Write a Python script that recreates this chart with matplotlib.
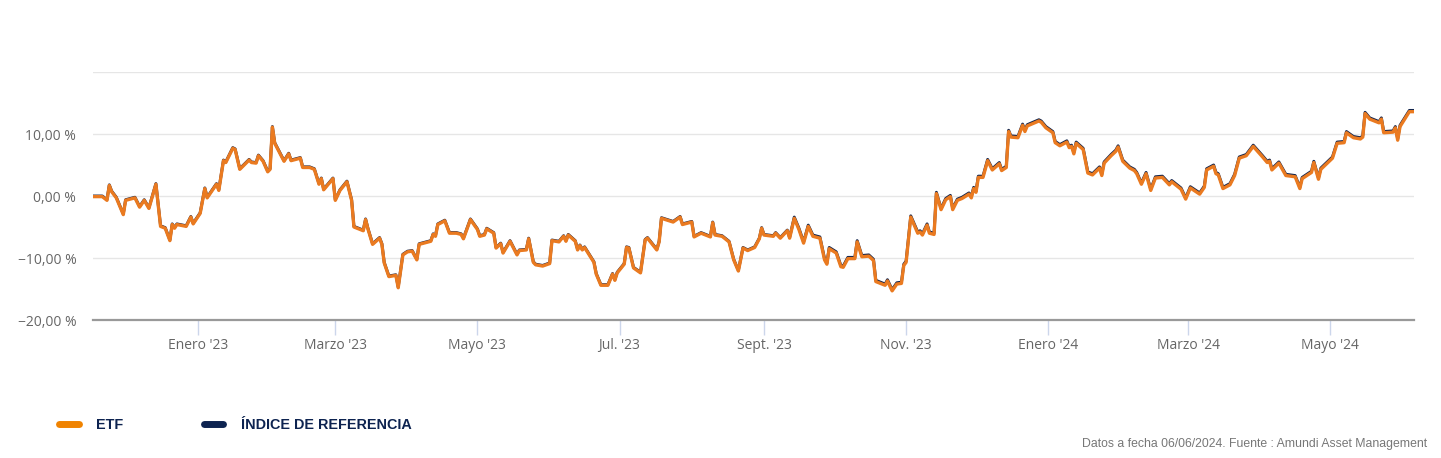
import pandas as pd
import matplotlib.pyplot as plt
from matplotlib.lines import Line2D

# days counted from 17/11/2022, values in %
start = pd.Timestamp('2022-11-17')
end = pd.Timestamp('2024-06-06')

days = [0, 4, 6, 7, 8, 10, 13, 14, 18, 20, 22, 24, 27, 29, 31, 33, 34, 35, 36, 40, 42, 43, 46, 48,
        49, 53, 54, 56, 57, 60, 61, 63, 67, 68, 70, 71, 73, 75, 76, 77, 78, 82, 84, 85, 89, 90, 93, 95,
        97, 98, 99, 103, 104, 106, 109, 111, 112, 116, 117, 118, 120, 123, 124, 125, 127, 130, 131, 133, 135, 137, 139, 140,
        142, 145, 146, 147, 148, 151, 153, 156, 158, 159, 162, 165, 166, 168, 169, 172, 173, 175, 176, 179, 182, 183, 186, 187, 189,
        190, 193, 196, 197, 200, 202, 203, 204, 207, 208, 209, 210, 211, 215, 216, 218, 221, 223, 224, 225, 228, 229, 230,
        232, 235, 237, 238, 242, 243, 244, 249, 252, 253, 257, 258, 261, 265, 266, 267, 270, 273, 275, 277, 279, 281,
        284, 286, 287, 288, 292, 293, 295, 298, 299, 301, 303, 305, 307, 309, 312, 314, 315, 316, 319, 321, 322, 324, 327, 328,
        330, 333, 335, 336, 340, 341, 343, 345, 347, 348, 349, 351, 354, 355, 356, 358, 359, 361, 362, 364, 366, 368, 369, 371,
        373, 376, 377, 378, 379,
        380, 382, 384, 386, 389, 390, 392, 393, 394, 397, 399, 400, 401, 406, 407, 409, 412, 413, 415, 418, 419, 420, 421, 422,
        425, 427, 429, 432, 433, 434, 437, 439, 440, 442, 445, 447, 448, 450, 452, 454, 456, 459, 462, 463, 467, 469, 471,
        473, 475, 477, 478, 481, 482, 483, 485, 488, 490, 492, 495, 498, 502, 504, 505, 506, 509, 512, 516, 518, 519, 523, 524,
        526, 527, 532, 534, 537, 538, 541, 544, 545, 546, 548, 552, 553, 554, 558, 559, 560, 561, 565, 567]

etf = [-0.1, -0.1, -0.7, 1.7, 0.7, -0.3, -3.0, -0.7, -0.3, -1.8, -0.7, -2.0, 1.9, -4.9, -5.2, -7.2, -4.6, -5.2, -4.6, -4.9, -3.4, -4.5, -2.8, 1.2,
       -0.3, 1.9, 0.9, 5.7, 5.4, 7.7, 7.5, 4.3, 5.8, 5.4, 5.3, 6.5, 5.6, 3.9, 4.3, 11.1, 8.5, 5.6, 6.8, 5.7, 6.1, 4.6, 4.6, 4.3,
       1.9, 2.8, 1.0, 2.8, -0.7, 0.9, 2.3, -0.7, -5.0, -5.6, -3.8, -5.3, -7.8, -6.8, -7.8, -10.8, -13.0, -12.8, -14.8, -9.5, -9.0, -8.9, -10.3, -7.8,
       -7.6, -7.3, -6.2, -6.5, -4.6, -4.0, -6.0, -6.0, -6.2, -6.9, -3.8, -5.4, -6.5, -6.3, -5.3, -6.0, -8.4, -7.7, -9.2, -7.3, -9.5, -8.8, -8.7, -6.9, -10.7,
       -11.1, -11.3, -10.9, -7.2, -7.4, -6.5, -7.3, -6.3, -7.3, -8.7, -8.0, -8.7, -8.3, -10.7, -12.6, -14.4, -14.4, -12.6, -13.6, -12.4, -11.0, -8.3, -8.4,
       -11.6, -12.4, -7.1, -6.8, -8.7, -7.4, -3.6, -4.2, -3.4, -4.6, -4.2, -6.6, -6.0, -6.6, -4.3, -6.3, -6.5, -7.4, -10.3, -12.1, -8.4, -8.8,
       -8.3, -6.9, -5.2, -6.3, -6.5, -6.0, -6.8, -5.6, -6.8, -3.6, -5.4, -7.6, -4.9, -6.5, -6.8, -10.3, -11.0, -8.5, -9.2, -11.4, -11.5, -10.1, -10.1, -7.4,
       -9.8, -9.7, -10.4, -13.8, -14.4, -13.7, -15.3, -14.2, -14.1, -11.2, -10.7, -3.4, -6.0, -5.8, -6.3, -4.7, -6.0, -6.2, 0.4, -2.2, -0.6, -0.1, -2.2, -0.7,
       -0.4, 0.3, -0.3, 1.2, 0.6,
       3.0, 3.0, 5.7, 4.2, 5.2, 4.1, 4.6, 10.4, 9.5, 9.4, 11.4, 10.4, 11.3, 12.1, 11.9, 11.0, 10.2, 8.6, 8.1, 8.7, 7.8, 8.0, 6.8, 8.5,
       7.5, 3.7, 3.4, 4.5, 3.3, 5.3, 6.5, 7.2, 7.9, 5.6, 4.5, 4.1, 3.6, 1.9, 3.6, 0.9, 2.9, 3.0, 1.8, 2.3, 1.1, -0.5, 1.3,
       0.8, 0.3, 1.4, 4.2, 4.8, 3.6, 3.4, 1.2, 1.8, 3.3, 6.1, 6.5, 8.0, 6.3, 5.4, 5.6, 4.2, 5.3, 3.3, 3.1, 1.2, 2.8, 3.8, 5.4,
       2.7, 4.3, 6.1, 8.5, 8.6, 10.2, 9.4, 9.2, 9.5, 13.3, 12.4, 11.8, 12.4, 10.2, 10.3, 11.0, 9.0, 11.2, 13.6, 13.6]

indice = [0.0, 0.0, -0.6, 1.8, 0.8, -0.2, -2.9, -0.6, -0.2, -1.7, -0.6, -1.9, 2.0, -4.8, -5.1, -7.1, -4.5, -5.1, -4.5, -4.8, -3.3, -4.4, -2.7, 1.3,
          -0.2, 2.0, 1.0, 5.8, 5.5, 7.8, 7.6, 4.4, 5.9, 5.5, 5.4, 6.6, 5.7, 4.0, 4.4, 11.2, 8.6, 5.7, 6.9, 5.8, 6.2, 4.7, 4.7, 4.4,
          2.0, 2.9, 1.1, 2.9, -0.6, 1.0, 2.4, -0.6, -4.9, -5.5, -3.7, -5.2, -7.7, -6.7, -7.7, -10.7, -12.9, -12.7, -14.7, -9.4, -8.9, -8.8, -10.2, -7.7,
          -7.5, -7.2, -6.1, -6.4, -4.5, -3.9, -5.9, -5.9, -6.1, -6.8, -3.7, -5.3, -6.4, -6.2, -5.2, -5.9, -8.3, -7.6, -9.1, -7.2, -9.4, -8.7, -8.6, -6.8, -10.6,
          -11.0, -11.2, -10.8, -7.1, -7.3, -6.4, -7.2, -6.2, -7.2, -8.6, -7.9, -8.6, -8.2, -10.6, -12.5, -14.3, -14.3, -12.5, -13.5, -12.3, -10.9, -8.2, -8.3,
          -11.5, -12.3, -7.0, -6.7, -8.6, -7.3, -3.5, -4.1, -3.3, -4.5, -4.1, -6.5, -5.9, -6.5, -4.2, -6.2, -6.4, -7.3, -10.2, -12.0, -8.3, -8.7,
          -8.2, -6.8, -5.1, -6.2, -6.4, -5.9, -6.7, -5.5, -6.7, -3.4, -5.2, -7.4, -4.7, -6.3, -6.6, -10.1, -10.8, -8.3, -9.0, -11.2, -11.3, -9.9, -9.9, -7.2,
          -9.6, -9.5, -10.2, -13.6, -14.2, -13.5, -15.1, -14.0, -13.9, -11.0, -10.5, -3.2, -5.8, -5.6, -6.1, -4.5, -5.8, -6.0, 0.6, -2.0, -0.4, 0.1, -2.0, -0.5,
          -0.2, 0.5, -0.1, 1.4, 0.8,
          3.2, 3.2, 5.9, 4.4, 5.4, 4.3, 4.8, 10.6, 9.7, 9.6, 11.6, 10.6, 11.5, 12.3, 12.1, 11.2, 10.4, 8.8, 8.3, 8.9, 8.0, 8.2, 7.0, 8.7,
          7.7, 3.9, 3.6, 4.7, 3.5, 5.5, 6.7, 7.4, 8.1, 5.8, 4.7, 4.3, 3.8, 2.1, 3.8, 1.1, 3.1, 3.2, 2.0, 2.5, 1.3, -0.3, 1.5,
          1.0, 0.5, 1.6, 4.4, 5.0, 3.8, 3.6, 1.4, 2.0, 3.5, 6.3, 6.7, 8.2, 6.5, 5.6, 5.8, 4.4, 5.5, 3.5, 3.3, 1.4, 3.0, 4.0, 5.6,
          2.9, 4.5, 6.3, 8.7, 8.8, 10.4, 9.6, 9.4, 9.7, 13.5, 12.6, 12.0, 12.6, 10.4, 10.5, 11.2, 9.2, 11.4, 13.8, 13.8]

tick_dates = ['2023-01-01', '2023-03-01', '2023-05-01', '2023-07-01', '2023-09-01',
              '2023-11-01', '2024-01-01', '2024-03-01', '2024-05-01']
tick_names = ["Enero '23", "Marzo '23", "Mayo '23", "Jul. '23", "Sept. '23",
              "Nov. '23", "Enero '24", "Marzo '24", "Mayo '24"]
y_ticks = [-20, -10, 0, 10, 20]

dates = start + pd.to_timedelta(days, unit='D')

orange = '#ea7a20'
navy = '#13254d'

fig = plt.figure(figsize=(14.41, 4.58), dpi=100)
ax = fig.add_axes([93 / 1441, 138 / 458, 1321 / 1441, 248 / 458])

ax.plot(dates, indice, color=navy, lw=2.1, zorder=2)
ax.plot(dates, etf, color=orange, lw=2.4, zorder=3)

ax.set_xlim(start, end)
ax.set_ylim(-20, 20)

# y axis
ax.set_yticks(y_ticks)
ax.set_yticklabels([('%.2f %%' % v).replace('.', ',').replace('-', '\u2212') if v < 20 else ''
                    for v in y_ticks])
ax.yaxis.grid(True, color='#e6e6e6', lw=1)
ax.set_axisbelow(True)
ax.tick_params(axis='y', length=0, pad=12, labelsize=10, labelcolor='#666666')

# x axis
ax.set_xticks(pd.to_datetime(tick_dates))
ax.set_xticklabels(tick_names)
ax.tick_params(axis='x', length=11, width=1, color='#ccd6eb', pad=2, labelsize=10, labelcolor='#666666')

for lab in ax.get_xticklabels() + ax.get_yticklabels():
    lab.set_family('Open Sans')

for s in ['top', 'right', 'left']:
    ax.spines[s].set_visible(False)
ax.spines['bottom'].set_color('#999999')
ax.spines['bottom'].set_linewidth(1.6)

# legend
handles = [Line2D([], [], color='#f08300', lw=5, solid_capstyle='round'),
           Line2D([], [], color='#0d2350', lw=5, solid_capstyle='round')]
leg = fig.legend(handles, ['ETF', 'ÍNDICE DE REFERENCIA'], loc='center left',
                 bbox_to_anchor=(59 / 1441, 1 - 425 / 458), ncol=2, frameon=False,
                 handlelength=1.35, handletextpad=1.2, columnspacing=5.6, borderpad=0,
                 borderaxespad=0, prop={'family': 'Liberation Sans', 'weight': 'bold', 'size': 10.4})
for t in leg.get_texts():
    t.set_color('#0d2350')

fig.text(1427 / 1441, 1 - 444 / 458, 'Datos a fecha 06/06/2024. Fuente : Amundi Asset Management',
         ha='right', va='center', color='#777777', fontsize=8.85, family='Liberation Sans')

fig.savefig('out.png', dpi=100, facecolor='white')
